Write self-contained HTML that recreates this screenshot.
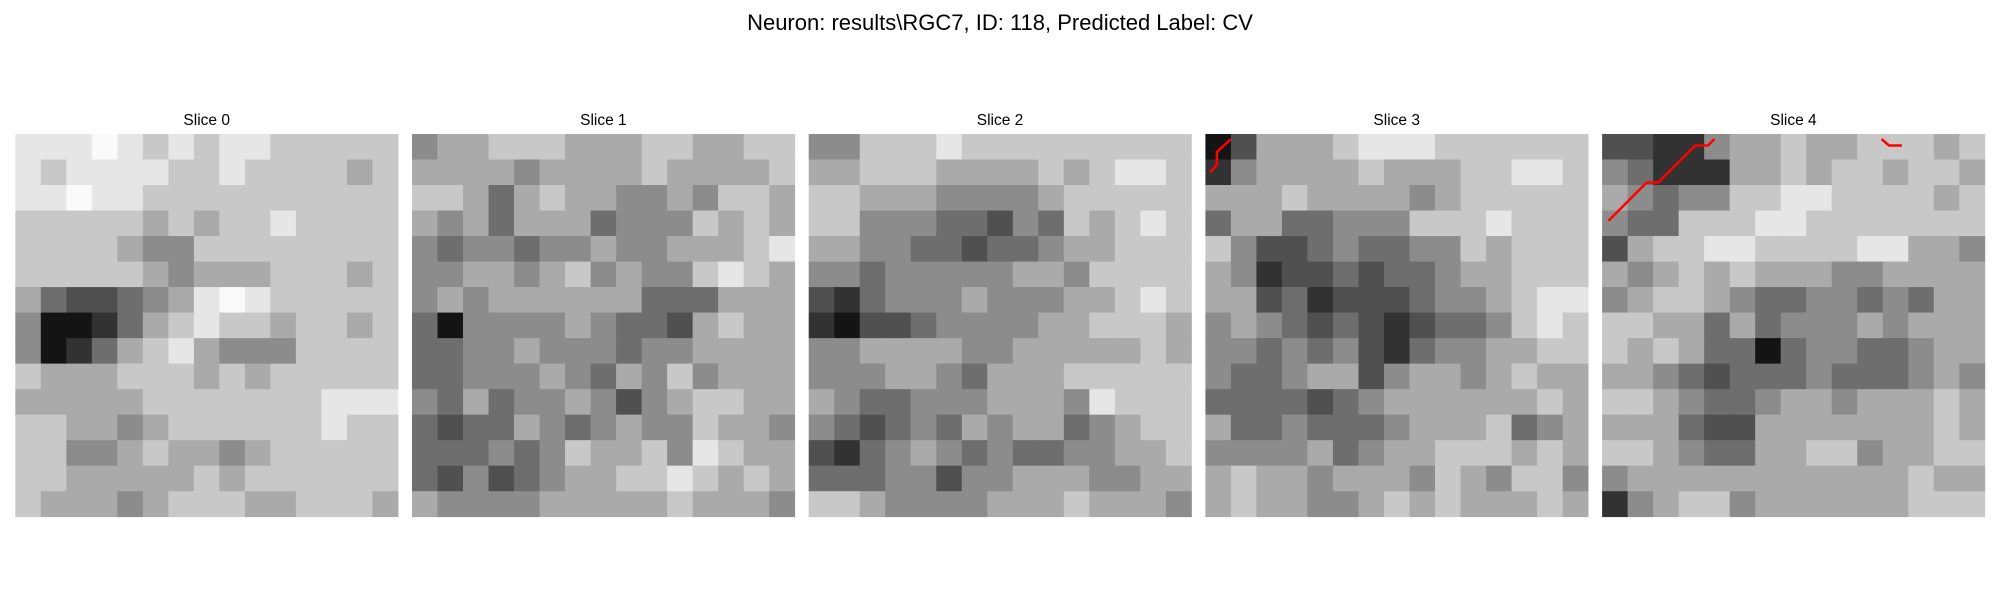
<!DOCTYPE html>
<html><head><meta charset="utf-8"><style>
html,body{margin:0;padding:0;background:#fff;width:2000px;height:600px;overflow:hidden}
svg text{font-family:"Liberation Sans","DejaVu Sans",sans-serif;fill:#000}
</style></head><body>
<svg id="fig" width="2000" height="600" viewBox="0 0 2000 600" xmlns="http://www.w3.org/2000/svg">
<text x="1000" y="30" font-size="22" text-anchor="middle">Neuron: results\RGC7, ID: 118, Predicted Label: CV</text>
<g id="panels"></g>
</svg>
<script>
const sliceTitles = ["Slice 0","Slice 1","Slice 2","Slice 3","Slice 4"];
const slice0 = ["888987878877777","878888778777767","889887777777777","777776767787777","777765577777777","777776566677767","643345689877777","511246787767767","512467865557777","766677767677777","666667777777888","776656777777877","775567665677777","776666676777777","766656777667776"];
const slice1 = ["566777666776677","666656666766667","776467665565776","656466645557676","545545565566678","556656756557876","565666666444666","415555654436766","445565554556666","445556546575666","546455653567766","434465456557665","444545766758766","435345667787676","655556666676665"];
const slice2 = ["557778777777777","667776666767887","776665555677777","775554435476787","665544344566777","554555556657777","324555655566787","213345555667776","556666556666676","555665466677777","654455566658777","543454656645677","324565454455667","444553556665566","776555566676665"];
const slice3 = ["136667888777777","256666766677887","666766665677777","466445557778777","753345445576777","652334344566777","663423334556788","565434323445787","554545324556677","544566356656766","444434566666676","644544456667456","555564566777676","676656665765775","676655676766676"];
const slice4 = ["332256676677767","542226676776776","654557788777767","544777887777777","367788777788665","656767666556666","567765445545466","776646455565666","767644145544566","665434445444565","776544566566676","666433666666676","776544667756677","566666666666766","256775666666777"];
const slices = [slice0, slice1, slice2, slice3, slice4];
const contourSlice = [3, 3, 3, 3, 4,4,4,4,4,4, 4,4,4];
const contourX = [0.4, 0.9, 0.9, 2.0, 0.5, 3.5, 4.4, 7.3, 8.3, 8.8, 21.9, 22.5, 23.5];
const contourY = [3.0, 2.4, 1.4, 0.4, 6.8, 3.8, 3.8, 0.9, 0.9, 0.4, 0.4, 0.9, 0.9];
const contourGroup = [0,0,0,0, 1,1,1,1,1,1, 2,2,2];

const NS = "http://www.w3.org/2000/svg";
const panelX0 = 15.3, panelStep = 396.7, panelW = 382.7, panelY0 = 134;
function xScale(s, c, n){ return panelX0 + s*panelStep + c*panelW/n; }
function yScale(r, n){ return panelY0 + r*panelW/n; }
function gray(d){ const v = Math.min(250, Math.max(0, Math.round(-10 + d*30))); return "rgb("+v+","+v+","+v+")"; }

const root = document.getElementById("panels");
slices.forEach((rows, s) => {
  const g = document.createElementNS(NS, "g");
  
  
  const n = rows.length;
  rows.forEach((row, r) => {
    for (let c = 0; c < row.length; c++) {
      const rect = document.createElementNS(NS, "rect");
      
      
      const x0 = xScale(s, c, row.length), x1 = xScale(s, c+1, row.length);
      const y0 = yScale(r, n), y1 = yScale(r+1, n);
      rect.setAttribute("x", x0.toFixed(2));
      rect.setAttribute("y", y0.toFixed(2));
      rect.setAttribute("width", (x1-x0+0.4).toFixed(2));
      rect.setAttribute("height", (y1-y0+0.4).toFixed(2));
      rect.setAttribute("fill", gray(+row[c]));
      g.appendChild(rect);
    }
  });
  root.appendChild(g);
  const t = document.createElementNS(NS, "text");
  
  
  t.setAttribute("x", (xScale(s, 0, 1) + panelW/2).toFixed(1));
  t.setAttribute("y", "125");
  t.setAttribute("font-size", "15.5");
  t.setAttribute("text-anchor", "middle");
  t.textContent = sliceTitles[s];
  root.appendChild(t);
});
const groups = {};
contourGroup.forEach((gi, i) => {
  (groups[gi] = groups[gi] || []).push(i);
});
Object.keys(groups).forEach(gi => {
  const idx = groups[gi];
  const pts = idx.map(i => xScale(contourSlice[i], contourX[i], 30).toFixed(1) + "," + yScale(contourY[i], 30).toFixed(1)).join(" ");
  const pl = document.createElementNS(NS, "polyline");
  
  
  pl.setAttribute("points", pts);
  pl.setAttribute("fill", "none");
  pl.setAttribute("stroke", "#ff0000");
  pl.setAttribute("stroke-width", "2.5");
  root.appendChild(pl);
});
</script>
</body></html>
